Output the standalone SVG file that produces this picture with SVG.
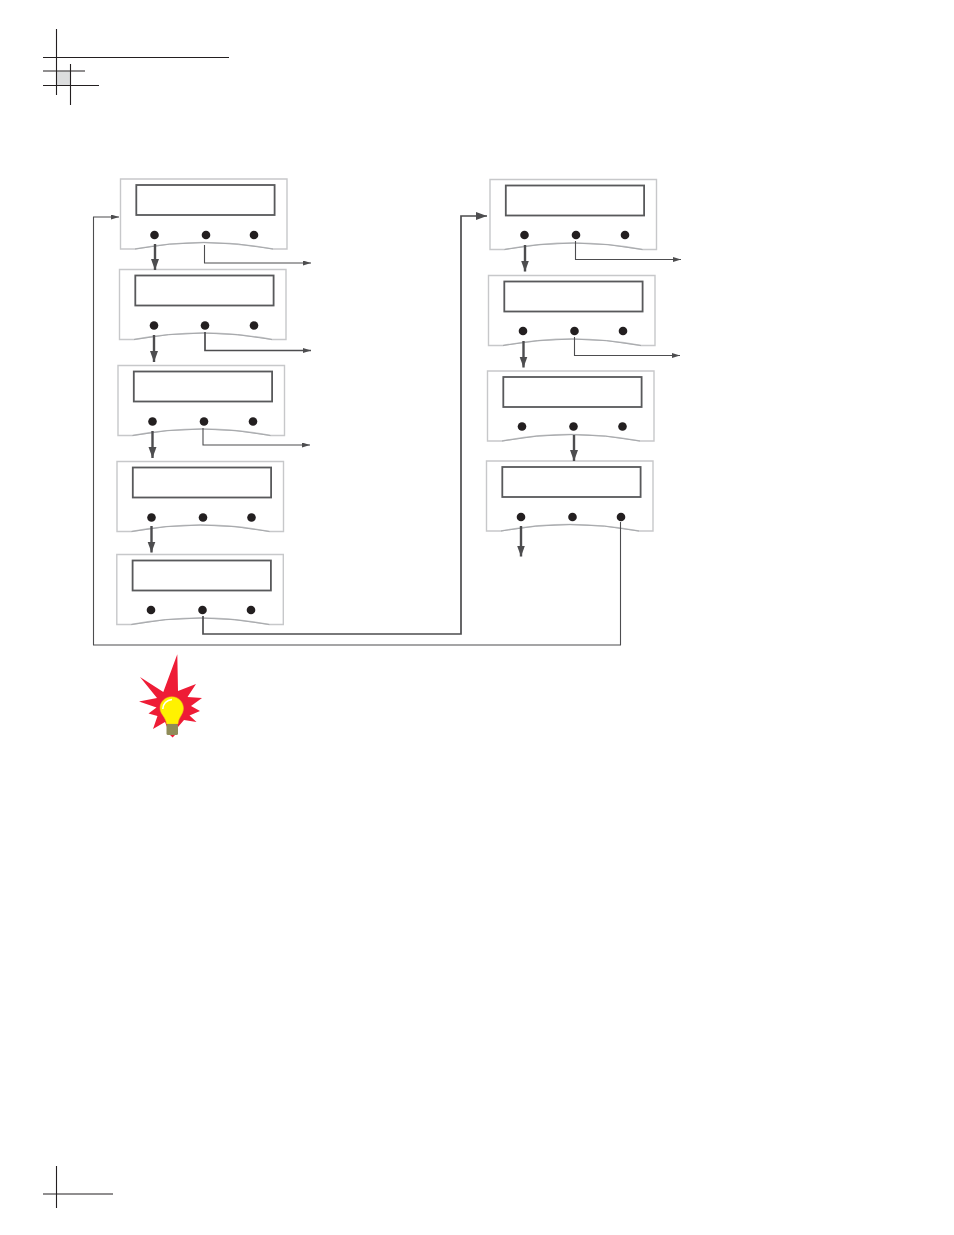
<svg xmlns="http://www.w3.org/2000/svg" width="954" height="1235" viewBox="0 0 954 1235">
<style>
.crop{stroke:#231f20;stroke-width:1.1;fill:none}
.body{fill:#fff;stroke:#c7c8ca;stroke-width:1.4}
.curve{fill:none;stroke:#a7a9ac;stroke-width:1}
.lcd{fill:#fff;stroke:#58595b;stroke-width:1.8}
.btn{fill:#231f20}
.thin{fill:none;stroke:#4d4d4f;stroke-width:1.1}
.mid{fill:none;stroke:#4d4d4f;stroke-width:1.7}
.thick{fill:none;stroke:#4d4d4f;stroke-width:2.4}
</style>
<defs>
<marker id="s" markerUnits="userSpaceOnUse" markerWidth="9" markerHeight="6" refX="8" refY="2.500" orient="auto"><path d="M0 0L8 2.500L0 5Z" fill="#4d4d4f"/></marker>
<marker id="m" markerUnits="userSpaceOnUse" markerWidth="12" markerHeight="9" refX="11" refY="4" orient="auto"><path d="M0 0L11 4L0 8Z" fill="#4d4d4f"/></marker>
<g id="panel">
<path class="body" d="M0 0H166.500V70H152.500Q83.500 57 14.500 70H0Z"/>
<path class="curve" d="M14.500 70Q83.500 57 152.500 70"/>
<rect class="lcd" x="15.800" y="6" width="138.300" height="30"/>
</g>
</defs>
<g id="crop-marks">
<rect x="57" y="71.500" width="13" height="13.500" fill="#dcddde"/>
<path class="crop" d="M56.500 29V95M70.500 64V105M43 57.500H229M43 71H85M43 85.500H99M56.500 1166V1208M43 1194H113"/>
</g>
<g id="panel-1"><use href="#panel" x="120.500" y="179"/><circle class="btn" cx="154.500" cy="235" r="4.300"/><circle class="btn" cx="206" cy="235" r="4.300"/><circle class="btn" cx="254" cy="235" r="4.300"/></g>
<g id="panel-2"><use href="#panel" x="119.500" y="269.500"/><circle class="btn" cx="154" cy="325.500" r="4.300"/><circle class="btn" cx="205" cy="325.500" r="4.300"/><circle class="btn" cx="254" cy="325.500" r="4.300"/></g>
<g id="panel-3"><use href="#panel" x="118" y="365.500"/><circle class="btn" cx="152.500" cy="421.500" r="4.300"/><circle class="btn" cx="204" cy="421.500" r="4.300"/><circle class="btn" cx="253" cy="421.500" r="4.300"/></g>
<g id="panel-4"><use href="#panel" x="117" y="461.500"/><circle class="btn" cx="151.500" cy="517.500" r="4.300"/><circle class="btn" cx="203" cy="517.500" r="4.300"/><circle class="btn" cx="251.500" cy="517.500" r="4.300"/></g>
<g id="panel-5"><use href="#panel" x="116.800" y="554.500"/><circle class="btn" cx="151" cy="610" r="4.300"/><circle class="btn" cx="202.500" cy="610" r="4.300"/><circle class="btn" cx="251" cy="610" r="4.300"/></g>
<g id="panel-6"><use href="#panel" x="490" y="179.500"/><circle class="btn" cx="524.500" cy="235" r="4.300"/><circle class="btn" cx="576" cy="235" r="4.300"/><circle class="btn" cx="625" cy="235" r="4.300"/></g>
<g id="panel-7"><use href="#panel" x="488.500" y="275.500"/><circle class="btn" cx="523" cy="331" r="4.300"/><circle class="btn" cx="574.500" cy="331" r="4.300"/><circle class="btn" cx="623" cy="331" r="4.300"/></g>
<g id="panel-8"><use href="#panel" x="487.500" y="371"/><circle class="btn" cx="522" cy="426.500" r="4.300"/><circle class="btn" cx="573.500" cy="426.500" r="4.300"/><circle class="btn" cx="622.500" cy="426.500" r="4.300"/></g>
<g id="panel-9"><use href="#panel" x="486.500" y="461"/><circle class="btn" cx="521" cy="517" r="4.300"/><circle class="btn" cx="572.500" cy="517" r="4.300"/><circle class="btn" cx="621" cy="517" r="4.300"/></g>
<g id="connectors">
<path class="thick" marker-end="url(#m)" d="M155 244V270"/>
<path class="thick" marker-end="url(#m)" d="M154 335V362"/>
<path class="thick" marker-end="url(#m)" d="M152.500 431V458"/>
<path class="thick" marker-end="url(#m)" d="M151.500 526V552.500"/>
<path class="thick" marker-end="url(#m)" d="M525 245V271.500"/>
<path class="thick" marker-end="url(#m)" d="M523.500 341V367.500"/>
<path class="thick" marker-end="url(#m)" d="M574 435V461"/>
<path class="thick" marker-end="url(#m)" d="M521 526V556.500"/>
<path class="thin" marker-end="url(#s)" d="M204.500 245V263H311"/>
<path class="mid" marker-end="url(#s)" d="M205 332V350.500H311"/>
<path class="thin" marker-end="url(#s)" d="M203 428V445H310"/>
<path class="thin" marker-end="url(#s)" d="M575.500 241V259.500H681"/>
<path class="thin" marker-end="url(#s)" d="M574.500 337V355.500H680"/>
<path class="mid" marker-end="url(#m)" d="M203 616V634H461V216H487"/>
<path class="thin" marker-end="url(#s)" d="M620.500 522V645H93.500V217H119"/>
</g>
<g id="bulb">
<path fill="#ee1c36" d="M177.300 654.300L178 691L196 684L187.500 697L202 698L191 706L200 711L189.500 715.500L196.500 722L184 720L178 727H167L165 722L153 729L157.500 716L148.500 713.500L156.500 707.500L139 701.500L157 698L140 677L163.300 692Z"/>
<path fill="#fff200" stroke="#e8b923" stroke-width=".5" d="M171.800 696.700C179 696.700 183.500 702.500 183.500 708.500C183.500 714.500 178.500 717 178 724H166.500C166 717 160 714.500 160 708C160 702 165 696.700 171.800 696.700Z"/>
<path fill="none" stroke="#fff" stroke-width="1.600" d="M172 699.500C166.500 700 163 704 162.800 709"/>
<rect x="166.500" y="724" width="11.500" height="11" rx="1.500" fill="#8f8c58"/>
<path fill="#ee1c36" d="M170 735H175L172.700 737.500Z"/>
</g>
</svg>
